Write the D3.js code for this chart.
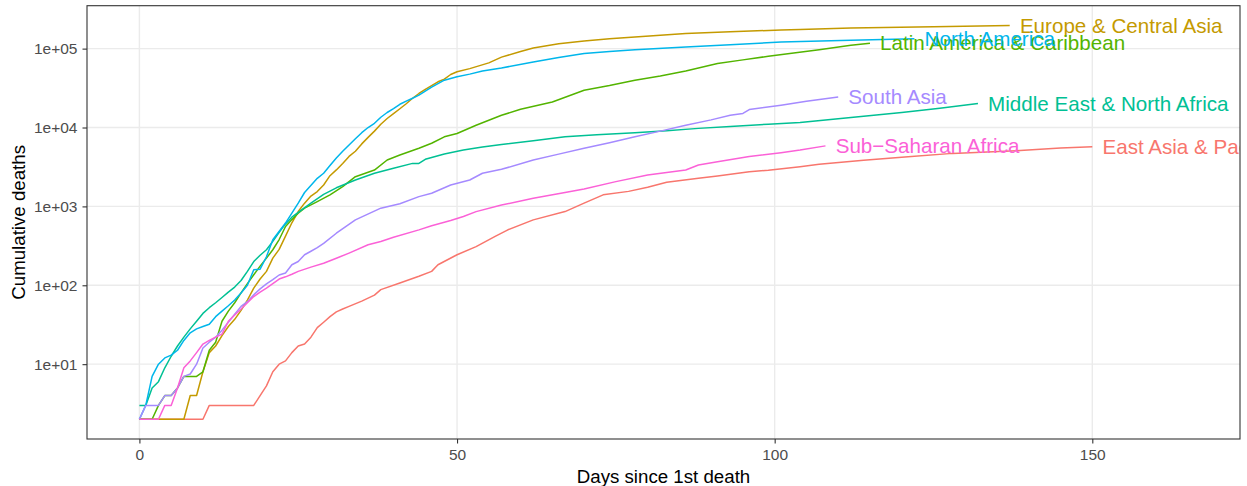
<!DOCTYPE html>
<html><head><meta charset="utf-8">
<script src="https://cdn.jsdelivr.net/npm/d3@7"></script>
<style>
body{margin:0;background:#fff}
svg text{font-family:"Liberation Sans",Arial,Helvetica,sans-serif}
</style>
</head><body>
<svg id="chart" width="1247" height="486"></svg>
<script>
// ---- data: [day since 1st death, cumulative deaths] ----
const regionNames = ["East Asia & Pacific","Europe & Central Asia","Latin America & Caribbean",
  "Middle East & North Africa","North America","South Asia","Sub\u2212Saharan Africa"];

const eastAsiaPacific = [[0,2],[10,2],[11,3],[18,3],[19,4],[20,5.3],[21,8],[22,10],[23,11],[24,14],[25,17],[26,18],
  [27,22],[28,29],[29,34],[30,40],[31,46],[32,50],[33,54],[35,63],[37,75],[38,88],[41,107],[44,130],[46,150],[47,182],
  [50,244],[53,309],[56,417],[58,505],[62,675],[67,860],[70,1100],[73,1400],[77,1550],[80,1750],[83,2020],[88,2270],
  [91,2430],[96,2750],[99,2880],[104,3190],[107,3410],[114,3850],[121,4260],[128,4700],[138,5080],[145,5500],[150,5700]];

const europeCentralAsia = [[0,2],[7,2],[8,4],[9,4],[10,8],[11,14],[12,17],[13,23],[14,30],[15,37],[16,48],[17,65],
  [18,92],[19,120],[20,150],[21,221],[22,285],[23,420],[24,620],[25,860],[26,1100],[27,1350],[28,1540],[29,1870],
  [30,2450],[31,2900],[32,3500],[33,4300],[34,5000],[35,6200],[36,7500],[37,9000],[38,11000],[39,13000],[40,15000],
  [41,17300],[42,20000],[43,23500],[44,27000],[45,30500],[46,34000],[47,38000],[48,41000],[49,47000],[50,51000],
  [52,55800],[55,66000],[57,78000],[60,92000],[62,102000],[66,115000],[70,125000],[74,133000],[78,140000],
  [86,155000],[93,164000],[101,172000],[104,175000],[112,182000],[125,190000],[137,197000]];

const latinAmericaCaribbean = [[0,2],[2,2],[3,3],[4,4],[5,4],[6,5],[7,7],[8,7],[9,7],[10,8],[11,15],[12,19],[13,35],
  [14,47],[15,60],[16,80],[17,105],[18,136],[19,175],[20,221],[21,282],[22,380],[23,556],[24,680],[25,820],[26,950],
  [28,1150],[30,1400],[32,1780],[34,2380],[37,2890],[39,3870],[41,4480],[42,4790],[44,5450],[46,6310],[48,7620],
  [50,8410],[53,10700],[57,14300],[60,17000],[65,21100],[70,29700],[74,34000],[78,39800],[82,45000],[86,52100],
  [91,64600],[95,72000],[99,80000],[103,88000],[107,97000],[112,110000],[115,117000]];

const middleEastNorthAfrica = [[0,3],[1,3],[2,5],[3,6],[4,9],[5,12.6],[6,17],[7,22],[8,28],[9,35],[10,44],[11,52],
  [12,60],[13,70],[14,82],[15,95],[16,115],[17,150],[18,200],[19,240],[20,282],[21,360],[22,470],[23,600],[24,730],
  [25,840],[27,1100],[29,1420],[31,1720],[34,2160],[37,2630],[40,3040],[43,3510],[44,3510],[45,3950],[48,4610],
  [51,5180],[54,5650],[57,6100],[62,6800],[67,7620],[72,8100],[78,8570],[83,9100],[88,9750],[93,10300],[99,11000],
  [104,11600],[112,13400],[120,15500],[126,17500],[132,20200]];

const northAmerica = [[0,2],[1,3],[2,7],[3,10],[4,12],[5,13],[6,15],[7,20],[8,25],[9,28],[10,30],[11,32],[12,40],
  [13,47],[14,55],[15,65],[16,80],[17,100],[18,157],[19,160],[20,230],[21,378],[23,615],[25,1100],[26,1500],
  [28,2270],[29,2630],[30,3300],[31,4100],[32,5000],[33,6000],[34,7200],[35,8600],[36,10000],[37,11300],[38,13500],
  [39,15500],[40,17400],[41,19700],[42,21600],[43,23500],[44,25700],[45,29000],[46,32500],[47,36000],[48,39800],
  [50,44000],[52,47500],[54,52100],[57,56900],[62,67600],[66,77000],[70,86500],[74,92000],[78,97100],[86,105000],
  [93,112000],[101,121000],[112,128000],[122,133000]];

const southAsia = [[0,2],[1,3],[2,3],[3,3],[4,4],[5,4],[6,5],[7,7],[8,7.5],[9,10],[10,16],[11,19],[12,22],[13,27],
  [14,34],[15,43],[16,54],[17,62],[18,76],[19,90],[20,104],[21,118],[22,135],[23,143],[24,182],[25,200],[26,244],
  [27,270],[28,300],[29,340],[31,457],[34,675],[38,950],[41,1080],[44,1330],[46,1470],[49,1870],[52,2160],[54,2630],
  [57,2950],[62,3870],[66,4600],[70,5450],[74,6400],[78,7620],[82,9000],[86,10700],[90,12500],[93,14300],[95,15100],
  [96,16900],[101,19200],[105,21500],[110,24400]];

const subSaharanAfrica = [[0,2],[3,2],[4,3],[5,3],[6,5],[7,9],[8,11],[9,14],[10,18],[11,20],[12,22],[13,24],[14,35],
  [15,42],[16,50],[17,60],[18,72],[19,82],[20,92],[21,105],[22,120],[23,128],[24,138],[25,150],[27,170],[29,190],
  [31,220],[33,256],[36,326],[38,359],[40,407],[44,504],[46,567],[49,661],[51,743],[53,859],[57,1040],[62,1270],
  [67,1500],[70,1660],[75,2060],[80,2500],[86,2890],[88,3350],[91,3680],[96,4300],[101,4800],[104,5180],[108,5850]];

const seriesValues = [eastAsiaPacific, europeCentralAsia, latinAmericaCaribbean, middleEastNorthAfrica,
  northAmerica, southAsia, subSaharanAfrica];

const xTickValues = [0, 50, 100, 150];
const yTickValues = [1e1, 1e2, 1e3, 1e4, 1e5];
const yTickLabels = ["1e+01", "1e+02", "1e+03", "1e+04", "1e+05"];
const xDataLimits = [0, 165];

// ---- styles / layout ----
const colors = ["#F8766D","#C49A00","#53B400","#00C094","#00B6EB","#A58AFF","#FB61D7"];
const W = 1247, H = 486;
const P = {left: 87, right: 1240, top: 5.7, bottom: 439};
const labelNudgeDays = 1.6;

const svg = d3.select("#chart");
svg.append("rect").attr("width", W).attr("height", H).attr("fill", "#fff");

// scales with ggplot-style 5% expansion
const xr = xDataLimits[1] - xDataLimits[0];
const x = d3.scaleLinear()
  .domain([xDataLimits[0] - 0.05 * xr, xDataLimits[1] + 0.05 * xr])
  .range([P.left, P.right]);

const allVals = seriesValues.flat().map(d => d[1]);
const lo = Math.log10(d3.min(allVals)), hi = Math.log10(d3.max(allVals));
const yr = hi - lo;
const y = d3.scaleLog()
  .domain([Math.pow(10, lo - 0.05 * yr), Math.pow(10, hi + 0.05 * yr)])
  .range([P.bottom, P.top]);

// grid
const grid = svg.append("g");
grid.selectAll("line.gx").data(xTickValues).join("line")
  .attr("x1", d => x(d)).attr("x2", d => x(d)).attr("y1", P.top).attr("y2", P.bottom)
  .attr("stroke", "#EBEBEB").attr("stroke-width", 1.4);
grid.selectAll("line.gy").data(yTickValues).join("line")
  .attr("y1", d => y(d)).attr("y2", d => y(d)).attr("x1", P.left).attr("x2", P.right)
  .attr("stroke", "#EBEBEB").attr("stroke-width", 1.4);

// clip
svg.append("clipPath").attr("id", "panel").append("rect")
  .attr("x", P.left).attr("y", P.top).attr("width", P.right - P.left).attr("height", P.bottom - P.top);

const plot = svg.append("g").attr("clip-path", "url(#panel)");
const line = d3.line().x(d => x(d[0])).y(d => y(d[1]));

plot.selectAll("path.series").data(seriesValues).join("path")
  .attr("class", "series")
  .attr("d", d => line(d))
  .attr("fill", "none")
  .attr("stroke", (d, i) => colors[i])
  .attr("stroke-width", 1.5)
  .attr("stroke-linejoin", "round");

plot.selectAll("text.lab").data(seriesValues).join("text")
  .attr("class", "lab")
  .attr("x", d => x(d[d.length - 1][0] + labelNudgeDays))
  .attr("y", d => y(d[d.length - 1][1]))
  .attr("dy", "0.35em")
  .attr("fill", (d, i) => colors[i])
  .attr("font-size", 20.6)
  .text((d, i) => regionNames[i]);

// panel border
svg.append("rect").attr("x", P.left).attr("y", P.top)
  .attr("width", P.right - P.left).attr("height", P.bottom - P.top)
  .attr("fill", "none").attr("stroke", "#333333").attr("stroke-width", 1.1);

// axes
const xAxis = svg.append("g").attr("transform", `translate(0,${P.bottom})`)
  .call(d3.axisBottom(x).tickValues(xTickValues).tickSize(4.5).tickPadding(5).tickFormat(d3.format("d")));
const yAxis = svg.append("g").attr("transform", `translate(${P.left},0)`)
  .call(d3.axisLeft(y).tickValues(yTickValues).tickSize(4.5).tickPadding(5)
    .tickFormat((d) => yTickLabels[yTickValues.indexOf(d)]));
[xAxis, yAxis].forEach(a => {
  a.select(".domain").remove();
  a.selectAll(".tick line").attr("stroke", "#333333").attr("stroke-width", 1.1);
  a.selectAll(".tick text").attr("fill", "#4D4D4D").attr("font-size", 15.5)
    .attr("font-family", '"Liberation Sans",Arial,sans-serif');
});

// titles
svg.append("text").attr("x", (P.left + P.right) / 2).attr("y", 482.5)
  .attr("text-anchor", "middle").attr("font-size", 18.7).attr("fill", "#000")
  .text("Days since 1st death");
svg.append("text")
  .attr("transform", `translate(25,${(P.top + P.bottom) / 2}) rotate(-90)`)
  .attr("text-anchor", "middle").attr("font-size", 18.7).attr("fill", "#000")
  .text("Cumulative deaths");
</script>
</body></html>
